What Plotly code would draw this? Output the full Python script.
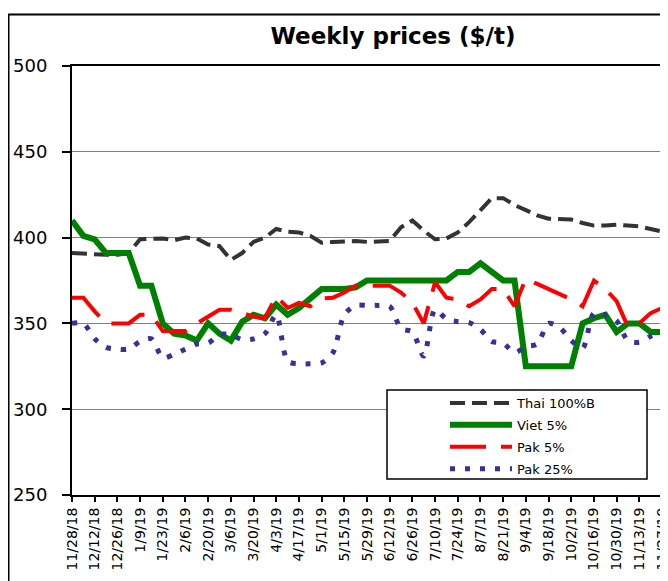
import plotly.graph_objects as go

dates = ["11/28/18", "12/5/18", "12/12/18", "12/19/18", "12/26/18", "1/2/19", "1/9/19", "1/16/19",
         "1/23/19", "1/30/19", "2/6/19", "2/13/19", "2/20/19", "2/27/19", "3/6/19", "3/13/19",
         "3/20/19", "3/27/19", "4/3/19", "4/10/19", "4/17/19", "4/24/19", "5/1/19", "5/8/19",
         "5/15/19", "5/22/19", "5/29/19", "6/5/19", "6/12/19", "6/19/19", "6/26/19", "7/3/19",
         "7/10/19", "7/17/19", "7/24/19", "7/31/19", "8/7/19", "8/14/19", "8/21/19", "8/28/19",
         "9/4/19", "9/11/19", "9/18/19", "9/25/19", "10/2/19", "10/9/19", "10/16/19", "10/23/19",
         "10/30/19", "11/6/19", "11/13/19", "11/20/19", "11/27/19"]

tick_labels = dates[::2]

thai_100b = [391, 390.5, 390, 390, 390, 391, 399, 399, 399.5, 398.5, 400, 399.5, 396, 395, 387, 391,
             397.5, 400, 405, 403.5, 403, 401, 397, 397.5, 398, 398, 397.5, 397.5, 398, 406, 410, 404,
             399, 399.5, 403, 409, 416, 423, 423, 419, 416, 413, 411, 411, 410.5, 408.5, 407, 407,
             407.5, 407, 406.5, 405, 403.5]

viet_5 = [410, 401, 399, 391, 391, 391, 372, 372, 350, 344, 343, 340, 350, 344, 340, 351,
          355, 353, 361, 355, 359, 364, 370, 370, 370, 371, 375, 375, 375, 375, 375, 375,
          375, 375, 380, 380, 385, 380, 375, 375, 325, 325, 325, 325, 325, 350, 353, 355,
          345, 350, 350, 345, 345]

pak_5 = [365, 365, 357, 350, 350, 350, 355, 355, 345.5, 345.5, 345.5, 350, 354, 358, 358, 356,
         354, 353, 366, 359, 362, 360, 364.5, 365, 368, 372, 372, 372, 372, 368, 362, 350,
         374, 365, 364, 360, 364, 370, 370, 360, 376, 373, 370, 367, 364, 360, 375, 370,
         363, 348, 350, 356, 359]

pak_25 = [350, 350, 341, 336, 335, 335, 339.5, 341, 330, 332, 335, 338, 338.5, 343.5, 343.5, 340.5,
          341, 344, 355, 328, 326.5, 326.5, 327, 333, 355, 360.5, 360.5, 360.5, 360, 347, 345, 331,
          358, 352.5, 351, 350.5, 346.5, 339.5, 338.5, 333, 336.5, 338, 350, 347.5, 340, 335.5, 356, 355,
          351.5, 340, 339, 342.5, 345.5]

FONT = "DejaVu Sans"

fig = go.Figure()
fig.add_trace(go.Scatter(x=dates, y=thai_100b, mode="lines", name="Thai 100%B", legendgroup="a",
                         line=dict(color="#333333", width=4, dash="15px,7px")))
fig.add_trace(go.Scatter(x=dates, y=viet_5, mode="lines", name="Viet 5%", legendgroup="b",
                         line=dict(color="#008000", width=6)))
fig.add_trace(go.Scatter(x=dates, y=pak_5, mode="lines", name="Pak 5%", legendgroup="c",
                         line=dict(color="#FF0000", width=4, dash="36px,15px")))
fig.add_trace(go.Scatter(x=dates, y=pak_25, mode="lines", name="Pak 25%", legendgroup="d",
                         line=dict(color="#333399", width=5, dash="5px,10px", shape="spline", smoothing=0.8)))

fig.update_layout(
    width=660, height=573,
    margin=dict(l=64, r=6, t=58, b=86, autoexpand=False),
    paper_bgcolor="white", plot_bgcolor="white",
    font=dict(family=FONT, color="black"),
    title=dict(text="Weekly prices ($/t)", x=385 / 660, xanchor="center", y=1 - 28 / 573, yanchor="middle",
               xref="container", yref="container",
               font=dict(family=FONT, size=23, weight="bold", color="black")),
    showlegend=True,
    legend=dict(x=0.6322, y=0.2494, xanchor="left", yanchor="top", bgcolor="rgba(0,0,0,0)",
                borderwidth=0, font=dict(family=FONT, size=13, color="black"),
                itemwidth=62, tracegroupgap=2, traceorder="grouped"),
    xaxis=dict(type="category", range=[0, 52], tickmode="array", tickvals=tick_labels, ticktext=tick_labels,
               tickangle=-90, tickfont=dict(family=FONT, size=14, color="black"),
               showline=True, linecolor="black", linewidth=2, mirror=True,
               ticks="outside", ticklen=5, tickwidth=2, tickcolor="black",
               showgrid=False, zeroline=False, automargin=False),
    yaxis=dict(range=[250, 500], dtick=50, tick0=250, tickfont=dict(family=FONT, size=18, color="black"),
               showline=True, linecolor="black", linewidth=2, mirror=True,
               ticks="outside", ticklen=8, tickwidth=1.5, tickcolor="black", ticklabelstandoff=11,
               showgrid=True, gridcolor="#808080", gridwidth=1, zeroline=False, automargin=False),
    shapes=[
        dict(type="rect", xref="paper", yref="paper", x0=0.5339, x1=0.9746, y0=0.0373, y1=0.2448,
             fillcolor="white", line=dict(color="black", width=1.5), layer="above"),
        dict(type="rect", xref="paper", yref="paper", x0=-0.1076, x1=1.05, y0=-0.3, y1=1.12,
             fillcolor="rgba(0,0,0,0)", line=dict(color="black", width=2), layer="above"),
    ],
)

fig.write_html("out.html")
